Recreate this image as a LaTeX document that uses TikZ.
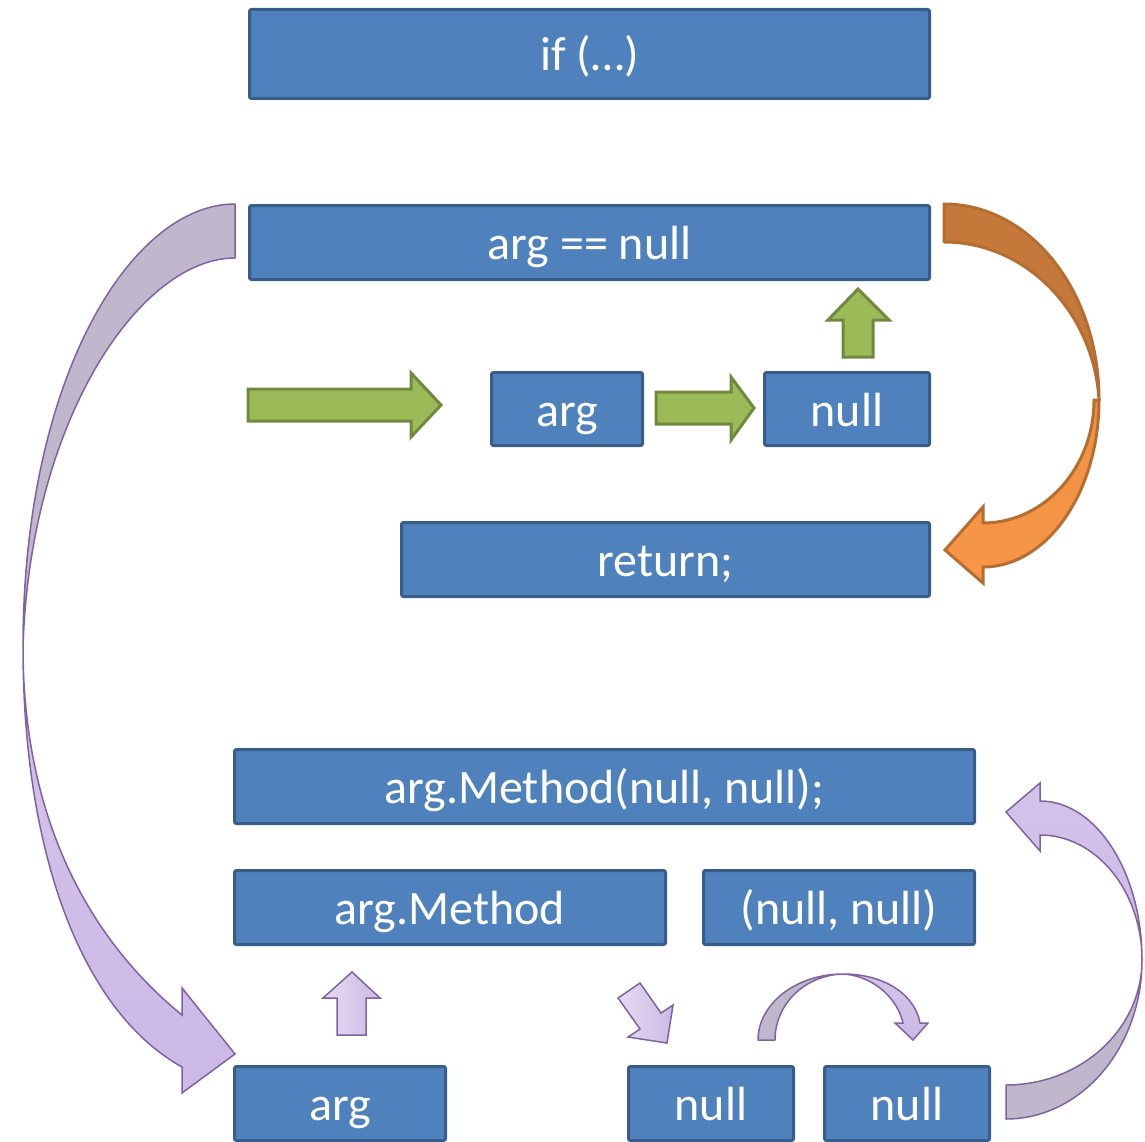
\documentclass[tikz,border=0pt]{standalone}
\usepackage{fontspec}
\setmainfont{Carlito}
\definecolor{boxfill}{HTML}{4F81BD}
\definecolor{boxline}{HTML}{385D8A}
\definecolor{grfill}{HTML}{9BBB59}
\definecolor{grline}{HTML}{71893F}
\definecolor{orback}{HTML}{C4783A}
\definecolor{orfront}{HTML}{F79646}
\definecolor{orline}{HTML}{B66D31}
\definecolor{pback}{HTML}{BFB8CC}
\definecolor{pfront}{HTML}{CCB9E6}
\definecolor{pline}{HTML}{7F63A1}
\definecolor{plight}{HTML}{E4DCF1}
\tikzset{
  codebox/.style={draw=boxline, fill=boxfill, line width=3pt, rounded corners=2pt,
    text=white, inner sep=0pt, text height=38pt, text depth=4pt,
    font=\fontsize{48}{57}\selectfont},
  greenarrow/.style={draw=grline, fill=grfill, line width=3pt, line join=miter},
  orangeback/.style={draw=orline, fill=orback, line width=3pt, line join=round},
  orangefront/.style={draw=orline, top color=orfront!85!orback, bottom color=orfront, line width=3pt, line join=miter},
  purpleback/.style={draw=pline, fill=pback, line width=1.5pt, line join=round},
  purplefront/.style={draw=pline, top color=pfront!70!plight, bottom color=pfront, line width=1.5pt, line join=miter},
  purplesmall/.style={draw=pline, left color=plight, right color=pfront, line width=1.5pt, line join=miter},
}
\begin{document}
\begin{tikzpicture}[x=1pt, y=-1pt]
\useasboundingbox (0,0) rectangle (1145,1142);

% code fragments
\node[codebox, minimum width=680pt, minimum height=89pt] (ifst) at (589.5,54) {if (…)};
\node[codebox, minimum width=680pt, minimum height=74pt] (cond) at (589.5,242.5) {arg == null};
\node[codebox, minimum width=151pt, minimum height=73pt] (arga) at (567,409) {arg};
\node[codebox, minimum width=165pt, minimum height=73pt] (nulla) at (847,409) {null};
\node[codebox, minimum width=528pt, minimum height=74pt] (ret) at (665.5,559.5) {return;};
\node[codebox, minimum width=740pt, minimum height=74pt] (call) at (604.5,786.5) {arg.Method(null, null);};
\node[codebox, minimum width=431pt, minimum height=74pt] (meth) at (450,907.5) {arg.Method};
\node[codebox, minimum width=271pt, minimum height=74pt] (args) at (839,907.5) {(null, null)};
\node[codebox, minimum width=211pt, minimum height=74pt] (argb) at (340,1103.5) {arg};
\node[codebox, minimum width=165pt, minimum height=74pt] (nullb) at (711,1103.5) {null};
\node[codebox, minimum width=165pt, minimum height=74pt] (nullc) at (907,1103.5) {null};

% green block arrows
\draw[greenarrow] (248,389) -- (411,389) -- (411,373) -- (441,405) -- (411,437) -- (411,421) -- (248,421) -- cycle;
\draw[greenarrow] (656,392) -- (731,392) -- (731,377) -- (754,408) -- (731,440) -- (731,424) -- (656,424) -- cycle;
\draw[greenarrow] (843,357) -- (843,320) -- (828,320) -- (858,289) -- (889,320) -- (873,320) -- (873,357) -- cycle;

% orange curved arrow: condition true -> return
\draw[orangeback] (944,204) .. controls (1030,204) and (1099,291) .. (1099,400)
  .. controls (1094,313) and (1027,242) .. (944,242) -- cycle;
\draw[orangefront] (1094,400) .. controls (1094,468) and (1044,523) .. (983,523)
  -- (983,507) -- (945,550) -- (983,583) -- (983,567)
  .. controls (1047,567) and (1099,492) .. (1099,400) -- cycle;

% large purple arrow on the left
\draw[purpleback] (235,204) .. controls (130,204) and (23,380) .. (23,647)
  .. controls (30,420) and (140,258) .. (235,258) -- cycle;
\draw[purplefront] (23,647) .. controls (23,820) and (90,940) .. (182,1015)
  -- (182,988) -- (235,1054) -- (182,1093) -- (182,1067)
  .. controls (80,1010) and (23,850) .. (23,647) -- cycle;

% large purple arrow on the right
\draw[purpleback] (1006,1119) .. controls (1081,1119) and (1142,1048) .. (1142,960)
  .. controls (1142,1029) and (1081,1085) .. (1006,1085) -- cycle;
\draw[purplefront] (1142,960) .. controls (1142,891) and (1096,835) .. (1040,835)
  -- (1040,851) -- (1006,812) -- (1040,783) -- (1040,801)
  .. controls (1096,801) and (1142,872) .. (1142,960) -- cycle;

% small purple arrows
\draw[purplesmall] (337,1035) -- (337,998) -- (323,998) -- (352,972) -- (380,998) -- (366,998) -- (366,1035) -- cycle;
\draw[purplesmall] (618,998) -- (640,983) -- (661,1013) -- (673,1005) -- (667,1043) -- (628,1037) -- (640,1029) -- cycle;
\draw[purpleback] (758,1040) .. controls (758,1004) and (796,974) .. (843,974)
  .. controls (805,975) and (775,1004) .. (775,1040) -- cycle;
\draw[purplefront] (843,974) .. controls (875,976) and (898,1000) .. (903,1023)
  -- (895,1023) -- (913,1040) -- (928,1023) -- (920,1023)
  .. controls (915,995) and (885,974) .. (843,974) -- cycle;
\end{tikzpicture}
\end{document}
